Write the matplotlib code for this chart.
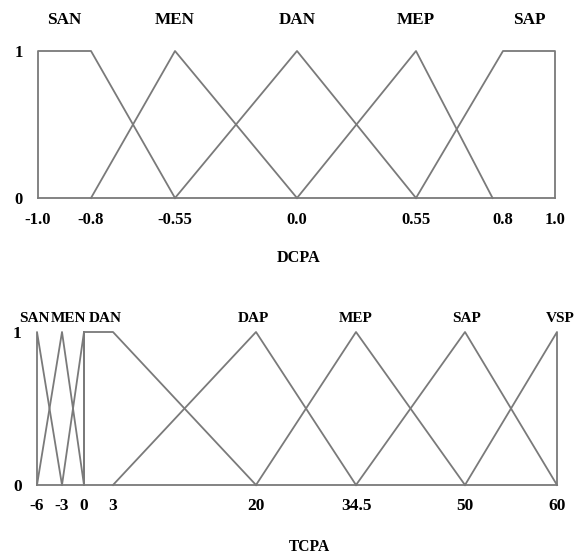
import numpy as np
import matplotlib
matplotlib.use("Agg")
import matplotlib.pyplot as plt

# ---- data: DCPA membership functions (value, membership) ----
dcpa_names = ["SAN", "MEN", "DAN", "MEP", "SAP"]
dcpa_x = [
    [-1.0, -1.0, -0.8, -0.55],
    [-0.8, -0.55, 0.0],
    [-0.55, 0.0, 0.55],
    [0.0, 0.55, 0.77],
    [0.55, 0.8, 1.0, 1.0],
]
dcpa_mu = [
    [0, 1, 1, 0],
    [0, 1, 0],
    [0, 1, 0],
    [0, 1, 0],
    [0, 1, 1, 0],
]
dcpa_peaks = [-0.9, -0.55, 0.0, 0.55, 0.9]
dcpa_ticks = [-1.0, -0.8, -0.55, 0.0, 0.55, 0.8, 1.0]
dcpa_ticklabels = ["-1.0", "-0.8", "-0.55", "0.0", "0.55", "0.8", "1.0"]

# ---- data: TCPA membership functions ----
tcpa_names = ["SAN", "MEN", "DAN", "DAP", "MEP", "SAP", "VSP"]
tcpa_x = [
    [-6, -6, -3],
    [-6, -3, 0],
    [-3, 0, 0, 0, 3, 20],
    [3, 20, 34.5],
    [20, 34.5, 50],
    [34.5, 50, 60],
    [50, 60, 60],
]
tcpa_mu = [
    [0, 1, 0],
    [0, 1, 0],
    [0, 1, 0, 1, 1, 0],
    [0, 1, 0],
    [0, 1, 0],
    [0, 1, 0],
    [0, 1, 0],
]
tcpa_peaks = [-6, -3, 1.5, 20, 34.5, 50, 60]
tcpa_ticks = [-6, -3, 0, 3, 20, 34.5, 50, 60]
tcpa_ticklabels = ["-6", "-3", "0", "3", "20", "34.5", "50", "60"]

# the original axes are not drawn to scale: piecewise mapping value -> pixel
dcpa_px = [38, 91, 175, 297, 416, 503, 555]
tcpa_px = [37, 62, 84, 113, 256, 356, 465, 557]
# small label nudges (points) where names crowd together
tcpa_dx = [-2, 4.5, 5, -2, 0, 1, 2]

W, H = 579, 557
plt.rcParams["font.family"] = ["Liberation Serif", "DejaVu Serif"]
plt.rcParams["font.weight"] = "bold"
line_col = "#7a7a7a"

fig = plt.figure(figsize=(W / 100, H / 100), dpi=100)


def make_axes(px_left, px_right, py_top, py_bottom):
    return fig.add_axes([px_left / W, (H - py_bottom) / H,
                         (px_right - px_left) / W, (py_bottom - py_top) / H])


def draw_panel(ax, knots, knots_px, xs, mus, names, peaks, dxs, dy, name_fs,
               ticks, ticklabels, tick_fs, xpad, xlabel, label_fs, label_xy):
    fwd = lambda v: np.interp(v, knots, knots_px)
    inv = lambda p: np.interp(p, knots_px, knots)
    ax.set_xscale("function", functions=(fwd, inv))
    ax.set_xlim(knots[0], knots[-1])
    ax.set_ylim(0, 1)
    ax.plot([knots[0], knots[-1]], [0, 0], color=line_col, lw=1.3, clip_on=False)
    for x, m in zip(xs, mus):
        ax.plot(x, m, color=line_col, lw=1.3, clip_on=False)
    for name, p, dx in zip(names, peaks, dxs):
        ax.annotate(name, xy=(p, 1), xytext=(dx, dy), textcoords="offset points",
                    ha="center", va="center", fontweight="bold", fontsize=name_fs)
    for s in ax.spines.values():
        s.set_visible(False)
    ax.set_xticks(ticks, ticklabels)
    ax.set_yticks([0, 1], ["0", "1"])
    ax.tick_params(axis="x", length=0, pad=xpad, labelsize=tick_fs)
    ax.tick_params(axis="y", length=0, pad=11, labelsize=tick_fs)
    ax.minorticks_off()
    ax.set_xlabel(xlabel, fontweight="bold", fontsize=label_fs)
    ax.xaxis.label.set_va("center")
    ax.xaxis.set_label_coords(*label_xy)


ax1 = make_axes(38, 555, 51, 198)
draw_panel(ax1, dcpa_ticks, dcpa_px, dcpa_x, dcpa_mu, dcpa_names, dcpa_peaks,
           [0] * 5, 22, 12.3, dcpa_ticks, dcpa_ticklabels, 12, 10,
           "DCPA", 11.7, (0.505, -0.408))

ax2 = make_axes(37, 557, 332, 485)
draw_panel(ax2, tcpa_ticks, tcpa_px, tcpa_x, tcpa_mu, tcpa_names, tcpa_peaks,
           tcpa_dx, 10, 11, tcpa_ticks, tcpa_ticklabels, 12.5, 9.5,
           "TCPA", 11.2, (0.523, -0.405))

fig.savefig("out.png", dpi=100)
